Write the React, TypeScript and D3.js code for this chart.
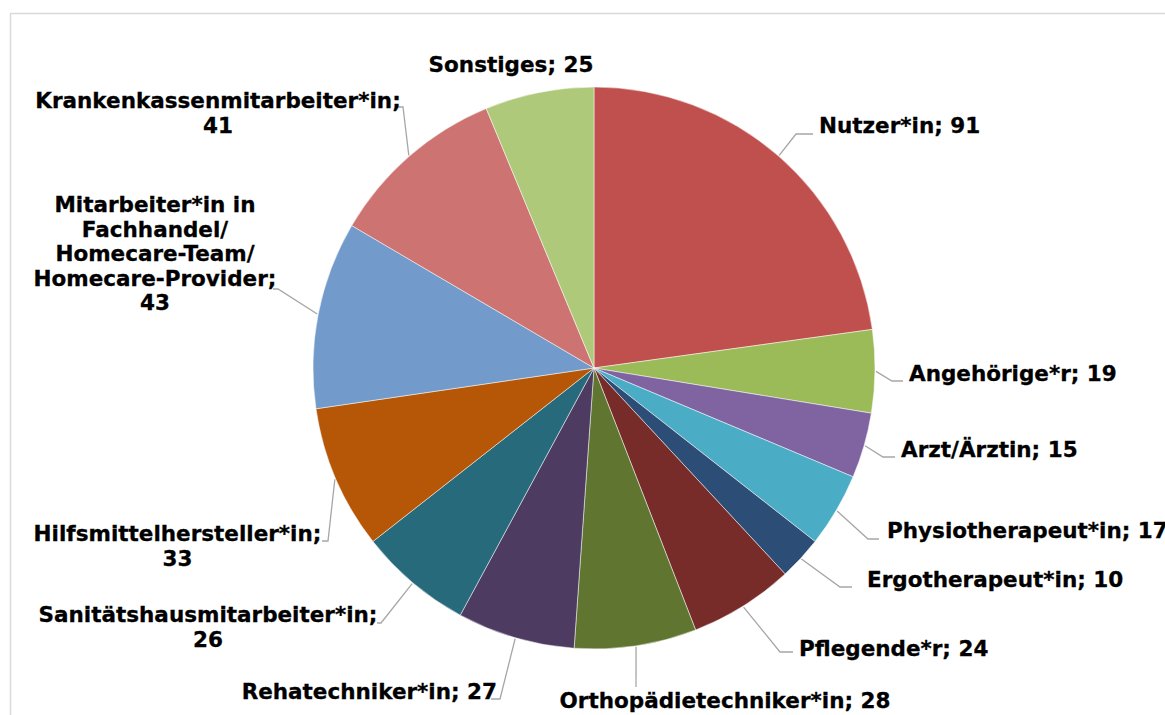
import React from 'react';
import * as d3 from 'd3';

// Datenreihen
const categories = [
  'Nutzer*in',
  'Angehörige*r',
  'Arzt/Ärztin',
  'Physiotherapeut*in',
  'Ergotherapeut*in',
  'Pflegende*r',
  'Orthopädietechniker*in',
  'Rehatechniker*in',
  'Sanitätshausmitarbeiter*in',
  'Hilfsmittelhersteller*in',
  'Mitarbeiter*in in Fachhandel/ Homecare-Team/ Homecare-Provider',
  'Krankenkassenmitarbeiter*in',
  'Sonstiges',
];
const values = [91, 19, 15, 17, 10, 24, 28, 27, 26, 33, 43, 41, 25];

// Excel 2010 Palette
const colors = [
  '#C0504D', '#9BBB59', '#8064A2', '#4BACC6', '#2C4D75', '#772C2A',
  '#5F7530', '#4D3B62', '#276A7C', '#B65708', '#729ACA', '#CD7371', '#AFC97A',
];

// Zeilenumbrüche wie im Original
const labelLines: string[][] = [
  ['Nutzer*in; 91'],
  ['Angehörige*r; 19'],
  ['Arzt/Ärztin; 15'],
  ['Physiotherapeut*in; 17'],
  ['Ergotherapeut*in; 10'],
  ['Pflegende*r; 24'],
  ['Orthopädietechniker*in; 28'],
  ['Rehatechniker*in; 27'],
  ['Sanitätshausmitarbeiter*in;', '26'],
  ['Hilfsmittelhersteller*in;', '33'],
  ['Mitarbeiter*in in', 'Fachhandel/', 'Homecare-Team/', 'Homecare-Provider;', '43'],
  ['Krankenkassenmitarbeiter*in;', '41'],
  ['Sonstiges; 25'],
];

// Label-Layout (Textanker + Knick/Ende der Führungslinie)
type LabelPos = { x: number; y: number; anchor: string; leader?: [number, number, number, number] };
const labelLayout: LabelPos[] = [
  { x: 819, y: 133, anchor: 'start', leader: [796, 134, 813, 134] },
  { x: 909, y: 381, anchor: 'start', leader: [892, 381, 903, 381] },
  { x: 901, y: 457, anchor: 'start', leader: [883, 457, 895, 457] },
  { x: 887, y: 538, anchor: 'start', leader: [868, 539, 879, 539] },
  { x: 867, y: 587, anchor: 'start', leader: [840, 587, 852, 587] },
  { x: 799, y: 656, anchor: 'start', leader: [780, 652, 793, 652] },
  { x: 725, y: 708, anchor: 'middle', leader: [636, 687, 636, 687] },
  { x: 497, y: 699, anchor: 'end', leader: [500, 699, 491, 699] },
  { x: 208, y: 622, anchor: 'middle', leader: [381, 623, 377, 623] },
  { x: 177.5, y: 541, anchor: 'middle', leader: [328, 541, 322, 541] },
  { x: 155, y: 212, anchor: 'middle', leader: [278, 289, 273, 289] },
  { x: 218, y: 108, anchor: 'middle', leader: [403, 107, 399, 107] },
  { x: 511, y: 72, anchor: 'middle' },
];

const W = 1165;
const H = 715;
const cx = 594;
const cy = 368;
const R = 281;
const fontSize = 21.5;
const lineH = 24.5;

export default function App() {
  const pie = d3.pie<number>().sort(null).value((d) => d);
  const arcs = pie(values);
  const arc = d3.arc<d3.PieArcDatum<number>>().innerRadius(0).outerRadius(R);

  return (
    <svg
      width={W}
      height={H}
      style={{ position: 'absolute', left: 0, top: 0, background: '#fff' }}
      fontFamily="'DejaVu Sans', Verdana, sans-serif"
    >
      <rect x={10.5} y={13.5} width={W + 20} height={H + 20} fill="#fff" stroke="#d9d9d9" strokeWidth={1.5} />
      <g transform={`translate(${cx},${cy})`}>
        {arcs.map((a, i) => (
          <path key={categories[i]} d={arc(a) || ''} fill={colors[i]} stroke="#fff" strokeWidth={0.5} />
        ))}
      </g>
      {arcs.map((a, i) => {
        const lp = labelLayout[i];
        if (!lp.leader) return null;
        const mid = (a.startAngle + a.endAngle) / 2;
        const sx = cx + Math.sin(mid) * (R + 1);
        const sy = cy - Math.cos(mid) * (R + 1);
        const [ex, ey, tx, ty] = lp.leader;
        return (
          <polyline
            key={'l' + i}
            points={`${sx},${sy} ${ex},${ey} ${tx},${ty}`}
            fill="none"
            stroke="#a6a6a6"
            strokeWidth={1.3}
          />
        );
      })}
      {labelLines.map((lines, i) => {
        const lp = labelLayout[i];
        return (
          <text
            key={'t' + i}
            x={lp.x}
            y={lp.y}
            textAnchor={lp.anchor}
            fontSize={fontSize}
            fontWeight="bold"
            fill="#000"
            stroke="#000"
            strokeWidth={0.3}
          >
            {lines.map((s, j) => (
              <tspan key={j} x={lp.x} dy={j === 0 ? 0 : lineH}>
                {s}
              </tspan>
            ))}
          </text>
        );
      })}
    </svg>
  );
}
